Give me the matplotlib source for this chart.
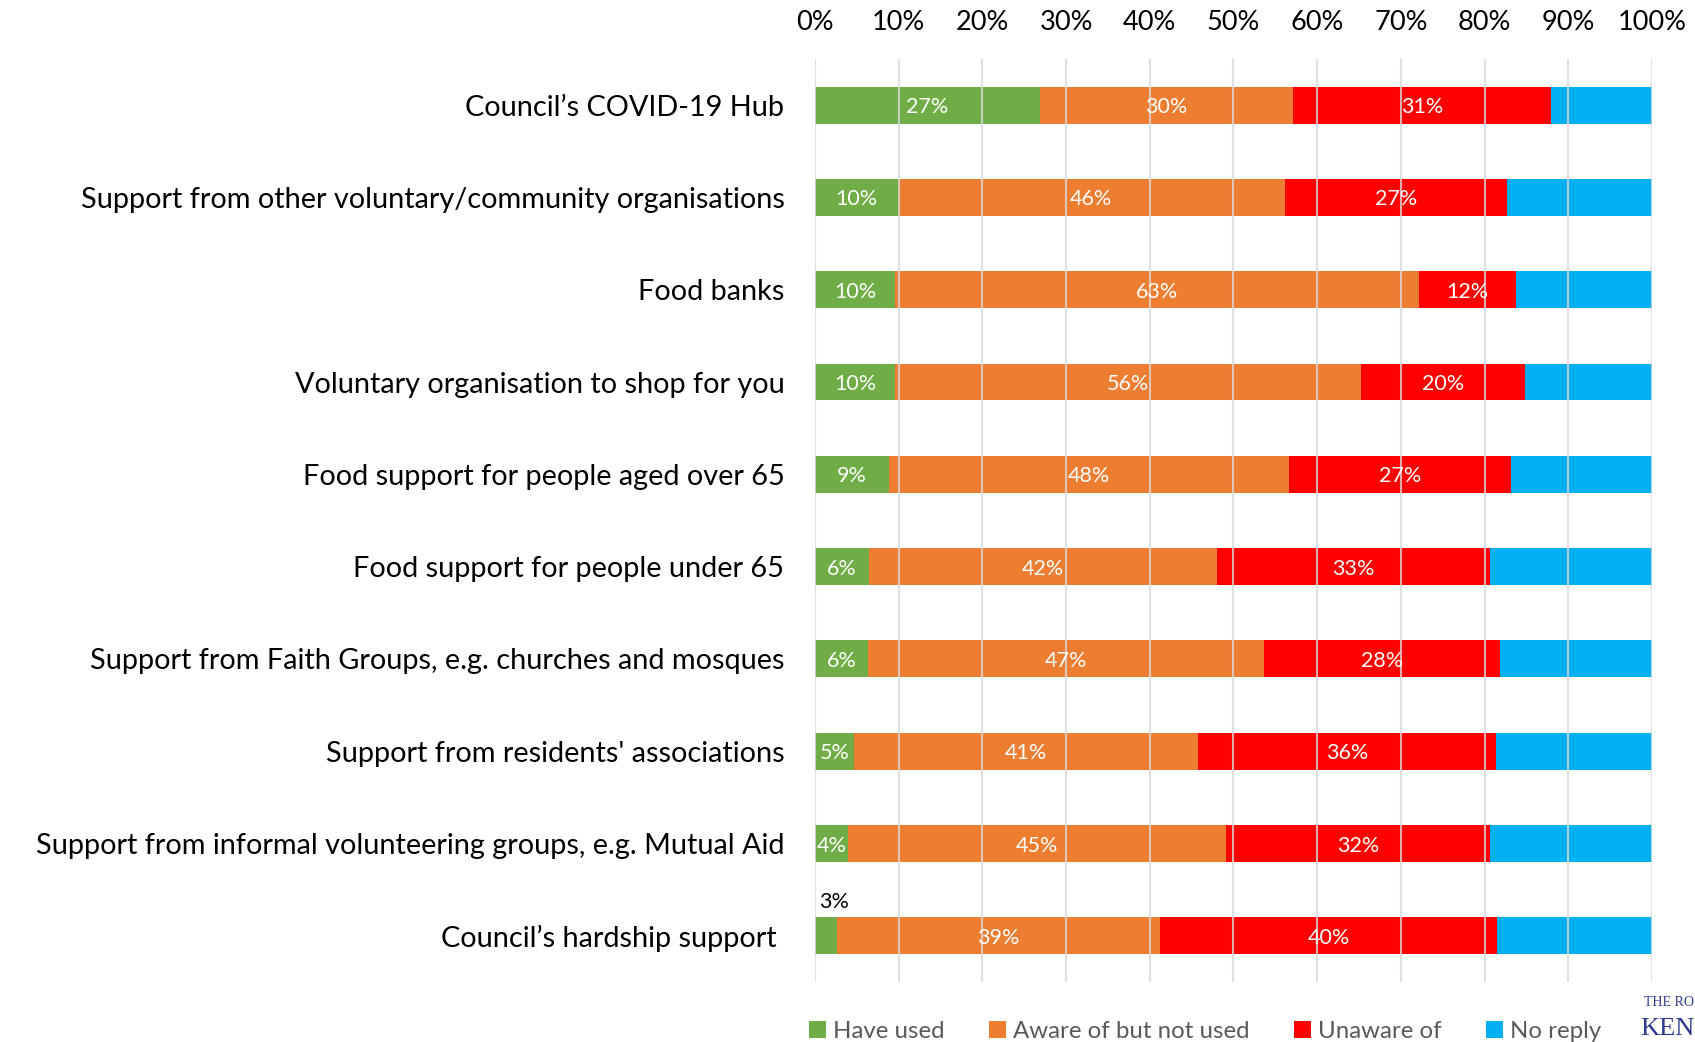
import matplotlib
matplotlib.use("Agg")
import matplotlib.pyplot as plt
import numpy as np

categories = [
    "Council\u2019s COVID-19 Hub",
    "Support from other voluntary/community organisations",
    "Food banks",
    "Voluntary organisation to shop for you",
    "Food support for people aged over 65",
    "Food support for people under 65",
    "Support from Faith Groups, e.g. churches and mosques",
    "Support from residents' associations",
    "Support from informal volunteering groups, e.g. Mutual Aid",
    "Council\u2019s hardship support ",
]
have_used = [26.9, 9.9, 9.6, 9.6, 8.8, 6.4, 6.3, 4.7, 3.9, 2.6]
aware_not_used = [30.2, 46.2, 62.6, 55.6, 47.8, 41.6, 47.3, 41.1, 45.2, 38.6]
unaware = [30.8, 26.6, 11.6, 19.6, 26.6, 32.6, 28.3, 35.6, 31.6, 40.3]
no_reply = [12.1, 17.3, 16.2, 15.2, 16.8, 19.4, 18.1, 18.6, 19.3, 18.5]
series_names = ["Have used", "Aware of but not used", "Unaware of", "No reply"]
xticks = [0, 10, 20, 30, 40, 50, 60, 70, 80, 90, 100]

colors = ["#70AD47", "#ED7D31", "#FF0000", "#00B0F0"]
FONT = "Lato"
plt.rcParams["font.family"] = [FONT, "DejaVu Sans"]

fig = plt.figure(figsize=(16.95, 10.42), dpi=100)
ax = fig.add_axes([0.4808, 0.0576, 0.9746 - 0.4808, 0.9434 - 0.0576])

y = np.arange(len(categories))
series = [have_used, aware_not_used, unaware, no_reply]
left = np.zeros(len(categories))
containers = []
for vals, col, name in zip(series, colors, series_names):
    vals = np.array(vals)
    bc = ax.barh(y, vals, left=left, height=0.40, color=col, label=name, zorder=2)
    containers.append((bc, vals, left.copy()))
    left = left + vals

# value labels (first three series)
for si, (bc, vals, lefts) in enumerate(containers[:3]):
    for i, (v, l) in enumerate(zip(vals, lefts)):
        txt = "%.0f%%" % v
        if si == 0 and v < 3.5:
            ax.annotate(txt, xy=(0, y[i]), xytext=(3, 26), textcoords="offset points",
                        ha="left", va="center_baseline", fontsize=15.5, color="black", zorder=5)
        else:
            ax.text(l + v / 2, y[i], txt, ha="center", va="center_baseline",
                    fontsize=15.5, color="white", zorder=5)

ax.set_xlim(0, 100)
ax.set_ylim(len(categories) - 0.5, -0.5)
ax.set_yticks(y)
ax.set_yticklabels(categories, fontsize=20.8, color="black")
ax.set_xticks(xticks)
ax.set_xticklabels(["%d%%" % t for t in xticks], fontsize=19.5, color="black")
ax.xaxis.tick_top()
ax.tick_params(axis="x", length=0, pad=17)
ax.tick_params(axis="y", length=0, pad=22)
ax.grid(axis="x", color="#D9D9D9", linewidth=1.5, alpha=0.8, zorder=3)
ax.set_axisbelow(False)
for s in ax.spines.values():
    s.set_visible(False)

handles = [c[0] for c in containers]
leg = fig.legend(handles, series_names, loc="center", bbox_to_anchor=(0.711, 0.0105),
                 ncol=4, frameon=False, fontsize=17.3, handlelength=0.7, handleheight=0.7,
                 handletextpad=0.3, columnspacing=1.85, borderaxespad=0)
for t in leg.get_texts():
    t.set_color("#595959")

# partial logo at bottom-right edge (cropped in the source image)
fig.text(0.9995, 1 - 1003 / 1042, "THE RO", fontsize=10,
         color="#2B3A8C", family="Liberation Serif", ha="right", va="center")
fig.text(0.9995, 1 - 1029 / 1042, "KEN", fontsize=19,
         color="#2B3A8C", family="Liberation Serif", ha="right", va="center")

fig.savefig("out.png", dpi=100)
